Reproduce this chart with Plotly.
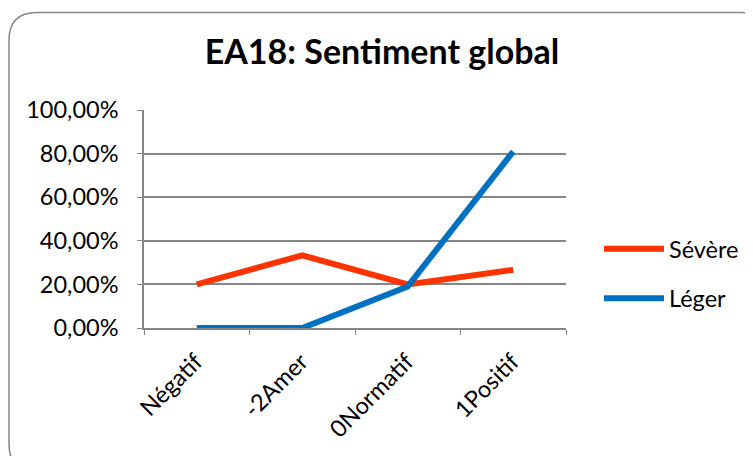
import plotly.graph_objects as go

categories = ["Négatif", "-2Amer", "0Normatif", "1Positif"]
severe = [0.20, 0.3333, 0.20, 0.2667]
leger = [0.0, 0.0, 0.1905, 0.8095]
y_tickvals = [0, 0.2, 0.4, 0.6, 0.8, 1.0]
y_ticktext = ["0,00%", "20,00%", "40,00%", "60,00%", "80,00%", "100,00%"]

FONT = "Lato, Carlito, Calibri, sans-serif"
OFF = 8  # page body margin
W, H = 753 - OFF, 456 - OFF
# plot area in screen pixels
SL, SR, ST, SB = 144, 566, 110, 328
L, R, T, B = SL - OFF, SR - OFF, ST - OFF, SB - OFF
FS = 23.5

fig = go.Figure()
fig.add_trace(go.Scatter(x=categories, y=severe, mode="lines", name="Sévère",
                         legendgroup="a",
                         line=dict(color="#FF3300", width=6)))
fig.add_trace(go.Scatter(x=categories, y=leger, mode="lines", name="Léger",
                         legendgroup="b",
                         line=dict(color="#0070C0", width=6)))

def px2paper(sx, sy):
    x, y = sx - OFF, sy - OFF
    return (x - L) / (R - L), (B - y) / (B - T)

# rounded chart border (screen px)
x0, y0, x1, y1, r = 9, 12.5, 769, 472, 28
def P(x, y):
    a, b = px2paper(x, y)
    return f"{a:.5f},{b:.5f}"
path = (f"M {P(x0, y0 + r)} Q {P(x0, y0)} {P(x0 + r, y0)} L {P(x1 - r, y0)} "
        f"Q {P(x1, y0)} {P(x1, y0 + r)} L {P(x1, y1 - r)} Q {P(x1, y1)} {P(x1 - r, y1)} "
        f"L {P(x0 + r, y1)} Q {P(x0, y1)} {P(x0, y1 - r)} Z")
fig.add_shape(type="path", path=path, xref="paper", yref="paper",
              line=dict(color="#868686", width=1.5), layer="below")

fig.update_layout(
    width=W, height=H,
    margin=dict(l=L, r=W - R, t=T, b=H - B, autoexpand=False),
    paper_bgcolor="white", plot_bgcolor="white",
    font=dict(family=FONT, size=FS, color="black"),
    title=dict(text="<b>EA18: Sentiment global</b>", x=(382 - OFF) / W, xanchor="center",
               y=1 - (52 - OFF) / H, yanchor="middle", font=dict(size=34, family=FONT)),
    showlegend=True,
    legend=dict(x=px2paper(599, 0)[0], xanchor="left", y=px2paper(0, 227)[1], yanchor="top",
                font=dict(size=FS, family=FONT), itemwidth=60, tracegroupgap=16,
                traceorder="grouped", bgcolor="rgba(0,0,0,0)"),
    xaxis=dict(type="category", range=[-0.5, 3.5], showgrid=False, showline=True,
               linecolor="#868686", linewidth=1.5, ticks="outside", ticklen=5,
               tickcolor="#868686", tickson="boundaries", tickangle=-45,
               ticklabelstandoff=9, ticklabelshift=-1,
               automargin=False, tickfont=dict(size=FS, family=FONT)),
    yaxis=dict(range=[0, 1], tickvals=y_tickvals, ticktext=y_ticktext,
               showgrid=True, gridcolor="#868686", gridwidth=1.5,
               showline=True, linecolor="#868686", linewidth=1.5,
               ticks="outside", ticklen=5, tickcolor="#868686", automargin=False,
               ticklabelstandoff=14,
               zeroline=False, tickfont=dict(size=FS, family=FONT)),
)

fig.write_html("out.html")
